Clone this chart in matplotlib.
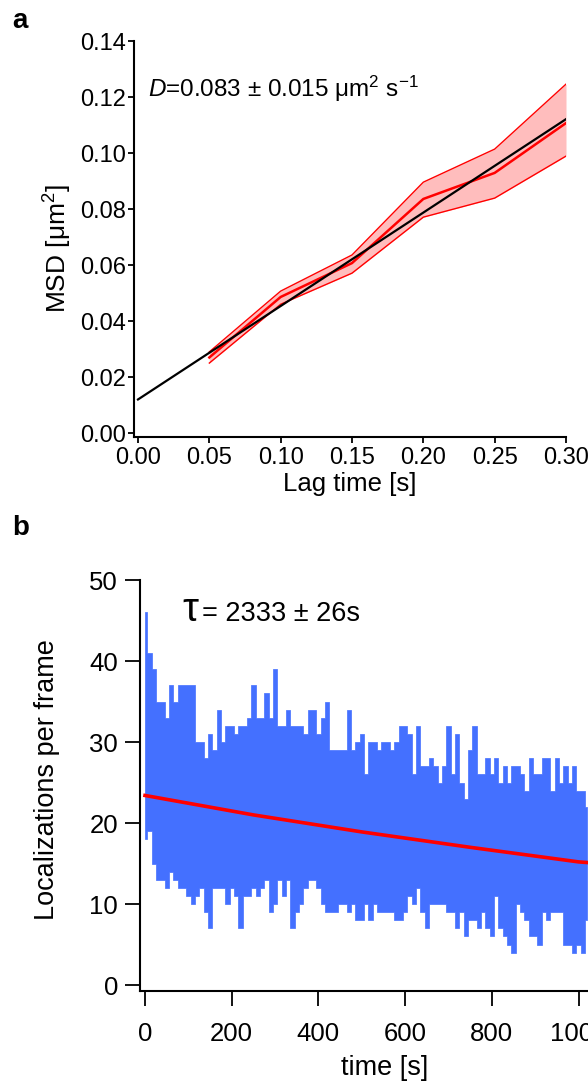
"""
MSD vs lag time (a) and localizations per frame over time (b)
"""
import matplotlib
matplotlib.use('Agg')
import matplotlib.pyplot as plt
import numpy as np

plt.rcParams['font.family'] = ['Liberation Sans', 'DejaVu Sans']
plt.rcParams['mathtext.fontset'] = 'custom'
plt.rcParams['mathtext.rm'] = 'Liberation Sans'
plt.rcParams['mathtext.it'] = 'Liberation Sans:italic'

# ---- panel a data
lag = [0.05, 0.10, 0.15, 0.20, 0.25, 0.30]
msd_mean = [0.027, 0.0486, 0.0607, 0.0836, 0.0929, 0.1107]
msd_upper = [0.029, 0.0507, 0.0636, 0.0896, 0.1014, 0.1246]
msd_lower = [0.025, 0.0460, 0.0571, 0.0771, 0.0839, 0.0989]
fit_lag = [0.0, 0.30]
fit_msd = [0.012, 0.1121]

# ---- panel b data (10 s bins, max / min of the trace in each bin)
t_bin = list(range(0, 1030, 10))
loc_hi = [46, 41, 39, 35, 35, 33, 37, 35, 37, 37,
          37, 37, 30, 30, 28, 31, 29, 34, 30, 32,
          32, 31, 32, 32, 33, 37, 33, 33, 36, 33,
          39, 32, 32, 34, 32, 32, 32, 31, 34, 34,
          31, 33, 35, 29, 29, 29, 29, 34, 29, 30,
          31, 26, 30, 30, 29, 30, 30, 29, 30, 32,
          32, 31, 26, 32, 27, 27, 28, 27, 25, 27,
          32, 26, 31, 25, 23, 29, 32, 26, 26, 28,
          26, 28, 25, 27, 25, 27, 27, 26, 24, 28,
          26, 26, 28, 28, 24, 28, 25, 27, 25, 27,
          24, 24, 22]
loc_lo = [18, 19, 15, 13, 13, 12, 14, 13, 12, 12,
          11, 10, 11, 12, 9, 7, 12, 12, 12, 10,
          12, 11, 7, 11, 11, 12, 11, 12, 13, 9,
          10, 13, 11, 13, 7, 9, 10, 12, 13, 13,
          12, 10, 9, 9, 9, 10, 10, 9, 10, 8,
          8, 10, 8, 10, 9, 9, 9, 9, 8, 8,
          9, 11, 10, 12, 9, 7, 10, 10, 10, 10,
          9, 9, 7, 9, 6, 8, 8, 7, 9, 7,
          6, 11, 7, 6, 5, 4, 10, 9, 8, 6,
          6, 5, 9, 8, 9, 9, 9, 5, 5, 4,
          5, 4, 8]
fit_t = [0, 250, 500, 750, 1000, 1025]
fit_loc = [23.4, 21.0, 18.9, 17.0, 15.2, 15.1]

fig = plt.figure(figsize=(5.88, 10.82), dpi=100)

# ================= panel a
ax1 = fig.add_axes([134 / 588, 1 - 437 / 1082, 432 / 588, 396 / 1082])
ax1.fill_between(lag, msd_lower, msd_upper, color='#ffbdbd', lw=0)
ax1.plot(lag, msd_upper, color='#ff0000', lw=1.0)
ax1.plot(lag, msd_lower, color='#ff0000', lw=1.0)
ax1.plot(lag, msd_mean, color='#ff0000', lw=1.8)
ax1.plot(fit_lag, fit_msd, color='black', lw=1.6)
ax1.set_xlim(-0.0028, 0.30)
ax1.set_ylim(-0.0014, 0.14)
ax1.set_xticks(np.arange(0, 0.31, 0.05))
ax1.set_yticks(np.arange(0, 0.141, 0.02))
ax1.set_xticklabels([f'{v:.2f}' for v in np.arange(0, 0.31, 0.05)])
ax1.set_yticklabels([f'{v:.2f}' for v in np.arange(0, 0.141, 0.02)])
ax1.spines['top'].set_visible(False)
ax1.spines['right'].set_visible(False)
for s in ('left', 'bottom'):
    ax1.spines[s].set_linewidth(1.5)
ax1.tick_params(direction='out', length=4, width=1.3, labelsize=17, pad=2)
ax1.tick_params(axis='x', pad=3)
ax1.text(0.007, 0.12, r'$D$=0.083 ± 0.015 μm$^{2}$ s$^{-1}$', fontsize=17.5,
         va='baseline', ha='left')
fig.text(58 / 588, 1 - 248 / 1082, 'MSD [μm$^{2}$]', rotation=90,
         ha='center', va='center', fontsize=19)
fig.text(350 / 588, 1 - 484 / 1082, 'Lag time [s]', ha='center',
         va='center', fontsize=18.5)
fig.text(12 / 588, 1 - 28 / 1082, 'a', fontsize=20, fontweight='bold',
         va='baseline')

# ================= panel b
ax2 = fig.add_axes([139.5 / 588, 1 - 991 / 1082, 448.5 / 588, 411 / 1082])
ax2.fill_between(t_bin, loc_lo, loc_hi, step='mid', color='#4470ff',
                 lw=0.5, edgecolor='#4470ff')
ax2.plot(fit_t, fit_loc, color='#ff0000', lw=2.6)
ax2.set_xlim(-12.7, 1021.9)
ax2.set_ylim(-0.74, 50)
ax2.set_xticks([0, 200, 400, 600, 800, 1000])
ax2.set_yticks([0, 10, 20, 30, 40, 50])
ax2.spines['top'].set_visible(False)
ax2.spines['right'].set_visible(False)
for s in ('left', 'bottom'):
    ax2.spines[s].set_linewidth(1.5)
ax2.tick_params(direction='out', length=10.5, width=1.3, labelsize=18.5)
ax2.tick_params(axis='x', pad=12)
ax2.tick_params(axis='y', pad=5)
ax2.text(87, 45, 'τ', fontsize=29, va='baseline', ha='left')
ax2.text(132, 45, '= 2333 ± 26s', fontsize=19.5, va='baseline', ha='left')
fig.text(47 / 588, 1 - 780 / 1082, 'Localizations per frame', rotation=90,
         ha='center', va='center', fontsize=19.5)
fig.text(385 / 588, 1 - 1068 / 1082, 'time [s]', ha='center',
         va='center', fontsize=19.5)
fig.text(12 / 588, 1 - 535 / 1082, 'b', fontsize=20, fontweight='bold',
         va='baseline')

plt.savefig('out.png', dpi=100)
